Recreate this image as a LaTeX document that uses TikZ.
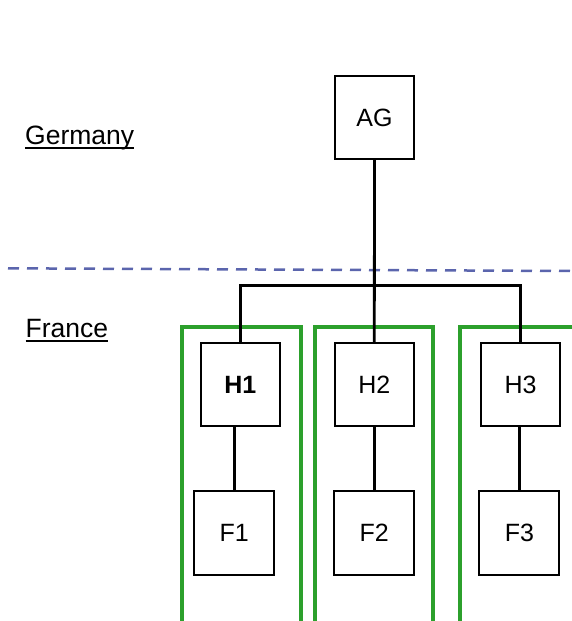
\documentclass[tikz,border=0pt]{standalone}
\usepackage{fontspec}
\setmainfont{Liberation Sans}
\newcommand\myul[1]{\setbox0\hbox{#1}\rlap{\copy0}\raisebox{-4.5pt}{\rule{\wd0}{2pt}}}
\tikzset{
  box/.style={draw=black, line width=2pt, minimum width=79pt, minimum height=83pt, inner sep=0pt, font=\fontsize{25}{29}\selectfont},
  fbox/.style={box, minimum width=80pt, minimum height=84pt},
  country/.style={anchor=base west, inner sep=0pt, font=\fontsize{26.5}{30}\selectfont},
  conn/.style={draw=black, line width=2.8pt},
  bus/.style={draw=black, line width=3.2pt},
  group/.style={line width=3.2pt, draw={rgb,255:red,44;green,160;blue,44}},
  border/.style={draw={rgb,255:red,91;green,101;blue,173}, line width=2.5pt, dash pattern=on 11pt off 8pt}
}
\begin{document}
\begin{tikzpicture}[x=1pt,y=-1pt]
\useasboundingbox (0,0) rectangle (572,621);
% groups
\draw[group] (182,625) -- (182,327) -- (301,327) -- (301,625);
\draw[group] (315,625) -- (315,327) -- (433,327) -- (433,625);
\draw[group] (460,625) -- (460,327) -- (580,327);
% border line
\coordinate (bl) at (8,268.3);
\coordinate (br) at (572,271);
\draw[border] (bl) -- (br);
% labels
\node[country] (de) at (25,144) {\myul{Germany}};
\node[country] (fr) at (25.5,337.7) {\myul{France}};
% nodes
\node[box] (AG) at (374.5,117.5) {AG};
\node[box] (H1) at (240.3,384.7) {\textbf{H1}};
\node[box] (H2) at (374.3,384.7) {H2};
\node[box] (H3) at (520.5,384.7) {H3};
\node[fbox] (F1) at (234.2,533) {F1};
\node[fbox] (F2) at (374.2,533) {F2};
\node[fbox] (F3) at (519.4,533) {F3};
\coordinate (bus) at (374.3,285.3);
% connectors
\draw[conn] (AG.south) -- (H2.north);
\draw[bus] (H1.north) |- (bus) -| (H3.north);
\draw[conn] (H1.south -| F1.north) -- (F1.north);
\draw[conn] (H2.south -| F2.north) -- (F2.north);
\draw[conn] (H3.south -| F3.north) -- (F3.north);
\end{tikzpicture}
\end{document}
